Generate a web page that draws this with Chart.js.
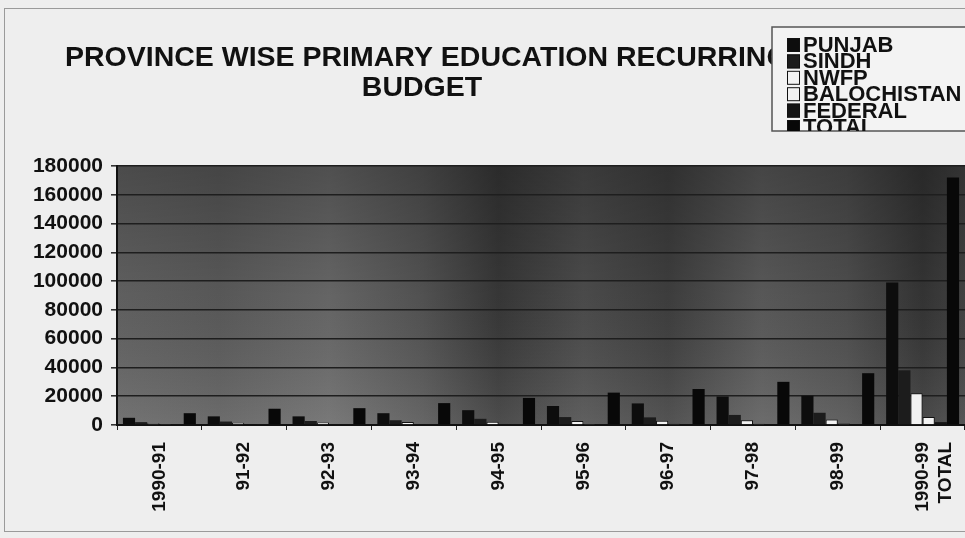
<!DOCTYPE html>
<html>
<head>
<meta charset="utf-8">
<script src="https://cdn.jsdelivr.net/npm/chart.js@4.4.1/dist/chart.umd.min.js"></script>
<style>
  body { margin: 0; background: #eeeeee; }
  #myChart { display: block; }
</style>
</head>
<body>
<canvas id="myChart" width="965" height="538"></canvas>
<script>
// categories and series (values in budget units)
var years = ['1990-91', '91-92', '92-93', '93-94', '94-95', '95-96', '96-97', '97-98', '98-99', ['1990-99', 'TOTAL']]
var punjab = [5000, 6000, 6000, 8200, 10300, 13200, 15000, 19800, 20300, 99000]
var sindh = [2000, 2400, 2800, 3300, 4300, 5500, 5300, 7000, 8500, 38000]
var nwfp = [1200, 1500, 1800, 2000, 2300, 2800, 3000, 3300, 3800, 22000]
var balochistan = [300, 400, 500, 500, 600, 700, 800, 900, 1000, 5600]
var federal = [100, 100, 150, 200, 200, 250, 300, 300, 400, 2000]
var total = [8200, 11300, 11700, 15200, 18800, 22500, 25000, 30000, 36000, 172000]
var yTicks = [0, 20000, 40000, 60000, 80000, 100000, 120000, 140000, 160000, 180000]

var titleLines = ['PROVINCE WISE PRIMARY EDUCATION RECURRING', 'BUDGET']

// plot background, frame, title and legend box
const decor = {
  id: 'decor',
  beforeDraw(chart) {
    const ctx = chart.ctx, a = chart.chartArea
    ctx.save()
    ctx.fillStyle = '#eeeeee'
    ctx.fillRect(0, 0, chart.width, chart.height)
    const g = ctx.createLinearGradient(a.left, 0, a.right, 0)
    g.addColorStop(0.00, '#646464')
    g.addColorStop(0.12, '#5c5c5c')
    g.addColorStop(0.25, '#6a6a6a')
    g.addColorStop(0.36, '#555555')
    g.addColorStop(0.45, '#393939')
    g.addColorStop(0.55, '#4e4e4e')
    g.addColorStop(0.65, '#404040')
    g.addColorStop(0.76, '#5c5c5c')
    g.addColorStop(0.86, '#505050')
    g.addColorStop(0.95, '#363636')
    g.addColorStop(1.00, '#444444')
    ctx.fillStyle = g
    ctx.fillRect(a.left, a.top, a.right - a.left, a.bottom - a.top)
    const v = ctx.createLinearGradient(0, a.top, 0, a.bottom)
    v.addColorStop(0, 'rgba(0,0,0,0.25)')
    v.addColorStop(0.5, 'rgba(0,0,0,0.05)')
    v.addColorStop(1, 'rgba(255,255,255,0.1)')
    ctx.fillStyle = v
    ctx.fillRect(a.left, a.top, a.right - a.left, a.bottom - a.top)
    ctx.restore()
  },
  afterDraw(chart) {
    const ctx = chart.ctx
    ctx.save()
    // outer frame
    ctx.strokeStyle = '#9a9a9a'
    ctx.lineWidth = 1
    ctx.strokeRect(4.5, 8.5, 980, 523)

    // title
    ctx.fillStyle = '#111'
    ctx.font = 'bold 28.5px "Liberation Sans", Arial, sans-serif'
    ctx.textBaseline = 'middle'
    ctx.textAlign = 'left'
    ctx.fillText(titleLines[0], 65, 58)
    ctx.textAlign = 'center'
    ctx.fillText(titleLines[1], 422, 88)

    // legend box, overlapping the end of the title
    const bx = 772, by = 27, bw = 200, bh = 104
    ctx.fillStyle = '#f3f3f3'
    ctx.fillRect(bx, by, bw, bh)
    ctx.strokeStyle = '#555'
    ctx.lineWidth = 1.5
    ctx.strokeRect(bx, by, bw, bh)
    ctx.beginPath()
    ctx.rect(bx, by, bw, bh)
    ctx.clip()
    ctx.font = 'bold 22px "Liberation Sans", Arial, sans-serif'
    ctx.textAlign = 'left'
    chart.data.datasets.forEach((ds, i) => {
      const cy = 45 + i * 16.4
      ctx.fillStyle = ds.backgroundColor
      ctx.fillRect(787, cy - 7, 13, 14)
      ctx.strokeStyle = '#111'
      ctx.lineWidth = 1
      ctx.strokeRect(787.5, cy - 6.5, 12, 13)
      ctx.fillStyle = '#111'
      ctx.fillText(ds.label, 803, cy + 1)
    })
    ctx.restore()
  }
}

const ctx = document.getElementById('myChart').getContext('2d')

const chart = new Chart(ctx, {
  type: 'bar',
  data: {
    labels: years,
    datasets: [
      { label: 'PUNJAB', data: punjab, backgroundColor: '#0d0d0d' },
      { label: 'SINDH', data: sindh, backgroundColor: '#1c1c1c' },
      { label: 'NWFP', data: nwfp, backgroundColor: '#f2f2f2', borderColor: '#111', borderWidth: 1 },
      { label: 'BALOCHISTAN', data: balochistan, backgroundColor: '#f2f2f2', borderColor: '#111', borderWidth: 1 },
      { label: 'FEDERAL', data: federal, backgroundColor: '#141414' },
      { label: 'TOTAL', data: total, backgroundColor: '#080808' }
    ]
  },
  options: {
    responsive: false,
    animation: false,
    layout: { padding: { top: 166, left: 0, right: 0, bottom: 0 } },
    datasets: { bar: { categoryPercentage: 0.86, barPercentage: 1.0 } },
    plugins: {
      legend: { display: false },
      title: { display: false },
      tooltip: { enabled: false }
    },
    scales: {
      x: {
        afterFit(scale) {
          scale.height = 113
          scale.paddingLeft = 0
          scale.paddingRight = 0
        },
        grid: { drawOnChartArea: false, drawTicks: true, tickLength: 5, color: '#222', lineWidth: 1 },
        border: { color: '#111', width: 2 },
        ticks: {
          autoSkip: false,
          minRotation: 90,
          maxRotation: 90,
          padding: 12,
          color: '#111',
          font: { family: '"Liberation Sans", Arial, sans-serif', size: 19, weight: 'bold', lineHeight: 1.2 }
        }
      },
      y: {
        min: 0,
        max: 180000,
        afterFit(scale) { scale.width = 117 },
        afterBuildTicks(scale) { scale.ticks = yTicks.map((v) => ({ value: v })) },
        grid: { color: '#1e1e1e', lineWidth: 1.6, tickLength: 6, tickColor: '#333' },
        border: { color: '#111', width: 2 },
        ticks: {
          padding: 8,
          color: '#111',
          callback: (v) => String(v),
          font: { family: '"Liberation Sans", Arial, sans-serif', size: 21, weight: 'bold' }
        }
      }
    }
  },
  plugins: [decor]
})
</script>
</body>
</html>
